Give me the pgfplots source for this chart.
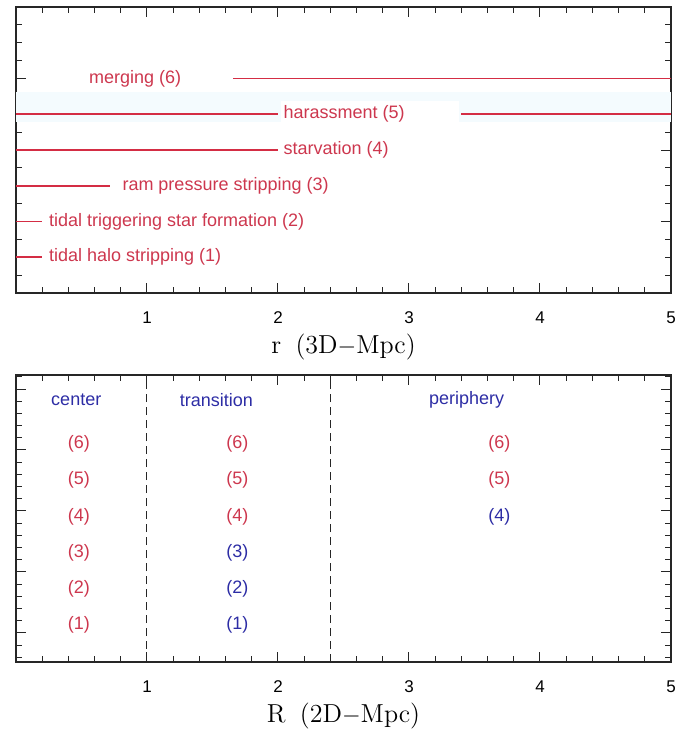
\documentclass[border=0pt]{standalone}
\usepackage{pgfplots}
\pgfplotsset{compat=1.18}
\usepackage{fontspec}
\newfontfamily\helv{Liberation Sans}
\definecolor{lred}{RGB}{212,45,68}
\definecolor{tred}{RGB}{205,55,78}
\definecolor{tblue}{RGB}{45,45,165}
\definecolor{band}{RGB}{244,251,254}
\tikzset{lab/.style={font=\helv\fontsize{9}{10}\selectfont, inner sep=0pt}}
\pgfplotsset{
  panel/.style={
    scale only axis, width=327.5pt,
    xmin=0, xmax=5, ymin=0, ymax=8,
    xtick={1,2,3,4,5},
    minor xtick={0,0.2,...,5},
    yticklabels={},
    tick align=inside,
    major tick length=5pt, minor tick length=3pt,
    every tick/.style={black!85, line width=0.5pt},
    axis line style={line width=0.6pt, black!85},
    /pgf/number format/assume math mode=true,
    xticklabel style={font=\helv\fontsize{8.5}{9}\selectfont, yshift=-6pt},
    x label style={at={(axis description cs:0.5,0)}, anchor=center, yshift=-27pt, font=\fontsize{13}{15}\selectfont},
  },
}
\begin{document}
\begin{tikzpicture}[x=1pt,y=1pt]
\path[use as bounding box] (0,0) rectangle (338.5,368);
% ---------- top panel ----------
\begin{axis}[panel, at={(8pt,221.5pt)}, anchor=south west, height=143pt,
  ytick={2,4,6}, minor ytick={0.5,1,...,7.5},
  xlabel={r\hspace{0.55em}(3D$-$Mpc)}]
\addplot[fill=band, draw=none] coordinates {(0,4.78) (5,4.78) (5,5.62) (0,5.62)} -- cycle;
\addplot[fill=white, draw=none] coordinates {(2.02,4.66) (3.38,4.66) (3.38,5.36) (2.02,5.36)} -- cycle;
\addplot[lred, line width=0.8pt] coordinates {(1.66,6) (5,6)};
\addplot[lred, line width=0.8pt] coordinates {(0,5) (2.0,5)};
\addplot[lred, line width=0.8pt] coordinates {(3.4,5) (5,5)};
\addplot[lred, line width=0.8pt] coordinates {(0,4) (2.0,4)};
\addplot[lred, line width=0.8pt] coordinates {(0,3) (0.72,3)};
\addplot[lred, line width=0.8pt] coordinates {(0,2) (0.2,2)};
\addplot[lred, line width=0.8pt] coordinates {(0,1) (0.2,1)};
\node[lab, tred, anchor=center] at (axis cs:0.91,6) {merging (6)};
\node[lab, tred, anchor=west] at (axis cs:2.04,5) {harassment (5)};
\node[lab, tred, anchor=west] at (axis cs:2.04,4) {starvation (4)};
\node[lab, tred, anchor=west] at (axis cs:0.81,3) {ram pressure stripping (3)};
\node[lab, tred, anchor=west] at (axis cs:0.25,2) {tidal triggering star formation (2)};
\node[lab, tred, anchor=west] at (axis cs:0.25,1) {tidal halo stripping (1)};
\end{axis}
% ---------- bottom panel ----------
\begin{axis}[panel, at={(8pt,37pt)}, anchor=south west, height=143.5pt,
  ytick={0.81,2.51,4.21,5.91,7.61}, minor ytick={0.13,0.47,...,7.96},
  xlabel={R\hspace{0.55em}(2D$-$Mpc)}]
\addplot[black!85, line width=0.5pt, dash pattern=on 4pt off 2.5pt] coordinates {(1,0) (1,8)};
\addplot[black!85, line width=0.5pt, dash pattern=on 4pt off 2.5pt] coordinates {(2.4,0) (2.4,8)};
\node[lab, tblue] at (axis cs:0.46,7.3) {center};
\node[lab, tblue] at (axis cs:1.53,7.3) {transition};
\node[lab, tblue] at (axis cs:3.44,7.3) {periphery};
% center column
\node[lab, tred] at (axis cs:0.48,6.08) {(6)};
\node[lab, tred] at (axis cs:0.48,5.07) {(5)};
\node[lab, tred] at (axis cs:0.48,4.06) {(4)};
\node[lab, tred] at (axis cs:0.48,3.05) {(3)};
\node[lab, tred] at (axis cs:0.48,2.04) {(2)};
\node[lab, tred] at (axis cs:0.48,1.03) {(1)};
% transition column
\node[lab, tred] at (axis cs:1.69,6.08) {(6)};
\node[lab, tred] at (axis cs:1.69,5.07) {(5)};
\node[lab, tred] at (axis cs:1.69,4.06) {(4)};
\node[lab, tblue] at (axis cs:1.69,3.05) {(3)};
\node[lab, tblue] at (axis cs:1.69,2.04) {(2)};
\node[lab, tblue] at (axis cs:1.69,1.03) {(1)};
% periphery column
\node[lab, tred] at (axis cs:3.69,6.08) {(6)};
\node[lab, tred] at (axis cs:3.69,5.07) {(5)};
\node[lab, tblue] at (axis cs:3.69,4.06) {(4)};
\end{axis}
\end{tikzpicture}
\end{document}
